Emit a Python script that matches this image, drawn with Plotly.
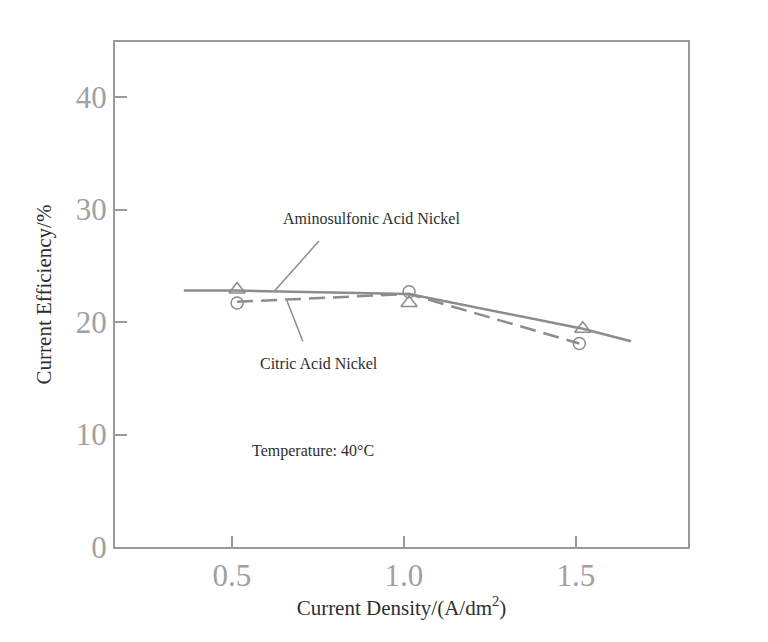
import plotly.graph_objects as go

# Aminosulfonic acid nickel (solid line, triangles)
amino_line_x = [0.36, 0.515, 1.015, 1.52, 1.66]
amino_line_y = [22.8, 22.8, 22.5, 19.4, 18.3]
amino_pts_x = [0.515, 1.015, 1.52]
amino_pts_y = [22.9, 21.7, 19.4]

# Citric acid nickel (dashed line, circles)
citric_line_x = [0.515, 1.015, 1.51]
citric_line_y = [21.8, 22.5, 18.1]
citric_pts_x = [0.515, 1.015, 1.51]
citric_pts_y = [21.7, 22.7, 18.1]

x_ticks = [0.5, 1.0, 1.5]
x_tick_text = ["0.5", "1.0", "1.5"]
y_ticks = [0, 10, 20, 30, 40]

line_col = "#8c8c8c"
axis_col = "#9a9a9a"
serif = "Liberation Serif, DejaVu Serif, serif"

fig = go.Figure()

fig.add_trace(go.Scatter(x=amino_line_x, y=amino_line_y, mode="lines",
                         line=dict(color=line_col, width=2.5), showlegend=False))
fig.add_trace(go.Scatter(x=citric_line_x, y=citric_line_y, mode="lines",
                         line=dict(color=line_col, width=2.5, dash="16px,8px"), showlegend=False))
fig.add_trace(go.Scatter(x=amino_pts_x, y=amino_pts_y, mode="markers",
                         marker=dict(symbol="triangle-up-open", size=14, color=line_col,
                                     line=dict(width=1.5)),
                         showlegend=False))
fig.add_trace(go.Scatter(x=citric_pts_x, y=citric_pts_y, mode="markers",
                         marker=dict(symbol="circle-open", size=12, color=line_col,
                                     line=dict(width=1.5)),
                         showlegend=False))

# leader lines from labels to curves
fig.add_shape(type="line", x0=0.753, y0=27.2, x1=0.625, y1=22.8,
              line=dict(color=line_col, width=1.5))
fig.add_shape(type="line", x0=0.706, y0=18.3, x1=0.66, y1=21.9,
              line=dict(color=line_col, width=1.5))

annotations = [
    dict(text="Aminosulfonic Acid Nickel", x=0.907, y=29.2),
    dict(text="Citric Acid Nickel", x=0.753, y=16.3),
    dict(text="Temperature: 40°C", x=0.552, y=8.55, xanchor="left"),
]
for a in annotations:
    fig.add_annotation(xref="x", yref="y", showarrow=False,
                       font=dict(family=serif, size=16, color="#2e2e2e"), **a)

fig.update_xaxes(range=[0.16, 1.826], tickvals=x_ticks, ticktext=x_tick_text,
                 showline=True, linecolor=axis_col, linewidth=2, mirror=True,
                 ticks="inside", ticklen=11, tickcolor=axis_col, tickwidth=1.5,
                 showgrid=False, zeroline=False,
                 tickfont=dict(family=serif, size=31, color="#a0a0a0"),
                 title=dict(text="Current Density/(A/dm<sup>2</sup>)", standoff=8,
                            font=dict(family=serif, size=21, color="#2e2e2e")))
fig.update_yaxes(range=[0, 44.9], tickvals=y_ticks,
                 showline=True, linecolor=axis_col, linewidth=2, mirror=True,
                 ticks="inside", ticklen=12, tickcolor=axis_col, tickwidth=1.5,
                 showgrid=False, zeroline=False,
                 tickfont=dict(family=serif, size=31, color="#a0a0a0"),
                 title=dict(text="Current Efficiency/%", standoff=18,
                            font=dict(family=serif, size=21, color="#2e2e2e")))

fig.update_layout(width=768, height=642, plot_bgcolor="white", paper_bgcolor="white",
                  margin=dict(l=107, r=88, t=34, b=103, autoexpand=False))

fig.write_html("out.html")
